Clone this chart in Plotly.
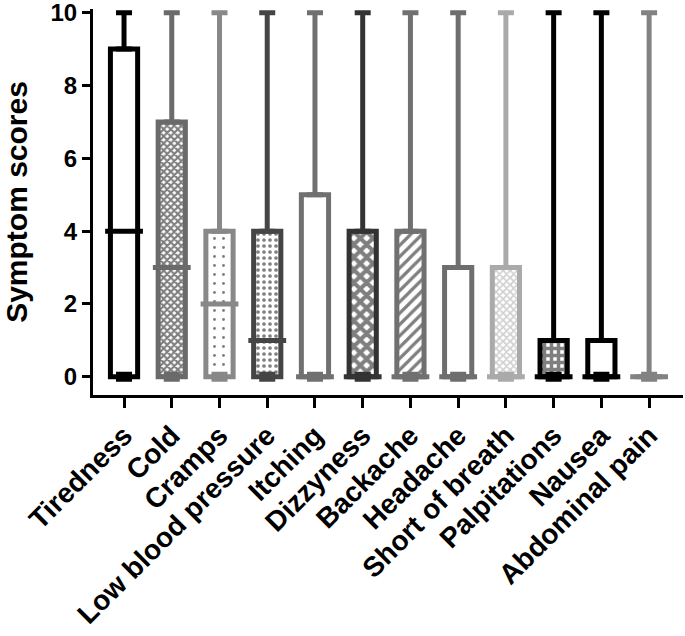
import plotly.graph_objects as go

categories = ["Tiredness", "Cold", "Cramps", "Low blood pressure", "Itching", "Dizzyness",
              "Backache", "Headache", "Short of breath", "Palpitations", "Nausea", "Abdominal pain"]
q_min = [0, 0, 0, 0, 0, 0, 0, 0, 0, 0, 0, 0]
q1 = [0, 0, 0, 0, 0, 0, 0, 0, 0, 0, 0, 0]
median = [4, 3, 2, 1, 0, 0, 0, 0, 0, 0, 0, 0]
q3 = [9, 7, 4, 4, 5, 4, 4, 3, 3, 1, 1, 0]
q_max = [10, 10, 10, 10, 10, 10, 10, 10, 10, 10, 10, 10]
y_ticks = [0, 2, 4, 6, 8, 10]

colors = ["#000000", "#6a6a6a", "#888888", "#454545", "#707070", "#333333",
          "#707070", "#6e6e6e", "#aaaaaa", "#000000", "#000000", "#828282"]
pat_shape = ["", "x", ".", ".", "", "x", "/", "", "x", "+", "", ""]
pat_fg = ["black", "black", "black", "black", "black", "black", "black", "black",
          "#a0a0a0", "black", "black", "black"]
pat_size = [6, 5, 9, 6, 6, 9, 8, 6, 5, 7, 6, 6]
pat_sol = [0.3, 0.65, 0.08, 0.3, 0.3, 0.7, 0.4, 0.3, 0.55, 0.75, 0.3, 0.3]

x = list(range(len(categories)))
FONT = "Liberation Sans, Arial, sans-serif"

fig = go.Figure()
fig.add_trace(go.Bar(
    x=x, y=[b - a for a, b in zip(q1, q3)], base=q1, width=0.57,
    marker=dict(color="white", line=dict(color=colors, width=5),
                pattern=dict(shape=pat_shape, fgcolor=pat_fg, bgcolor="white",
                             size=pat_size, solidity=pat_sol)),
    showlegend=False, hoverinfo="skip"))

for i in x:
    c = colors[i]
    # upper whisker + cap
    fig.add_trace(go.Scatter(
        x=[i], y=[q3[i]], mode="markers", marker=dict(size=1, opacity=0),
        error_y=dict(type="data", symmetric=False, array=[q_max[i] - q3[i]],
                     arrayminus=[0], color=c, thickness=5, width=8),
        showlegend=False, hoverinfo="skip"))
    # lower whisker + cap
    fig.add_trace(go.Scatter(
        x=[i], y=[q1[i]], mode="markers", marker=dict(size=1, opacity=0),
        error_y=dict(type="data", symmetric=False, array=[0],
                     arrayminus=[q1[i] - q_min[i]], color=c, thickness=10, width=8),
        showlegend=False, hoverinfo="skip"))
    # median
    fig.add_trace(go.Scatter(
        x=[i], y=[median[i]], mode="markers",
        marker=dict(symbol="line-ew", size=27, line=dict(color=c, width=5)),
        showlegend=False, hoverinfo="skip"))

fig.update_layout(
    width=685, height=636, plot_bgcolor="white", paper_bgcolor="white",
    margin=dict(l=93, r=2, t=9, b=241, autoexpand=False),
    font=dict(family=FONT, color="black"),
    xaxis=dict(range=[-0.65, 11.71], tickvals=x, ticktext=categories, tickangle=-45,
               showline=True, linecolor="black", linewidth=3, ticks="outside",
               ticklen=10, tickwidth=3, tickcolor="black", showgrid=False, zeroline=False,
               ticklabeloverflow="allow", automargin=False,
               tickfont=dict(size=28, family=FONT, weight="bold")),
    yaxis=dict(range=[-0.5, 10.1], tickvals=y_ticks, showline=True, linecolor="black",
               linewidth=3, ticks="outside", ticklen=8, tickwidth=3, tickcolor="black",
               showgrid=False, zeroline=False, ticklabeloverflow="allow", automargin=False,
               tickfont=dict(size=24, family=FONT, weight="bold"),
               title=dict(text="Symptom scores", standoff=18,
                          font=dict(size=30, family=FONT, weight="bold"))),
)

fig.write_html("out.html", config={"displayModeBar": False},
               post_script="document.body.style.margin='0';document.body.style.overflow='hidden';")
